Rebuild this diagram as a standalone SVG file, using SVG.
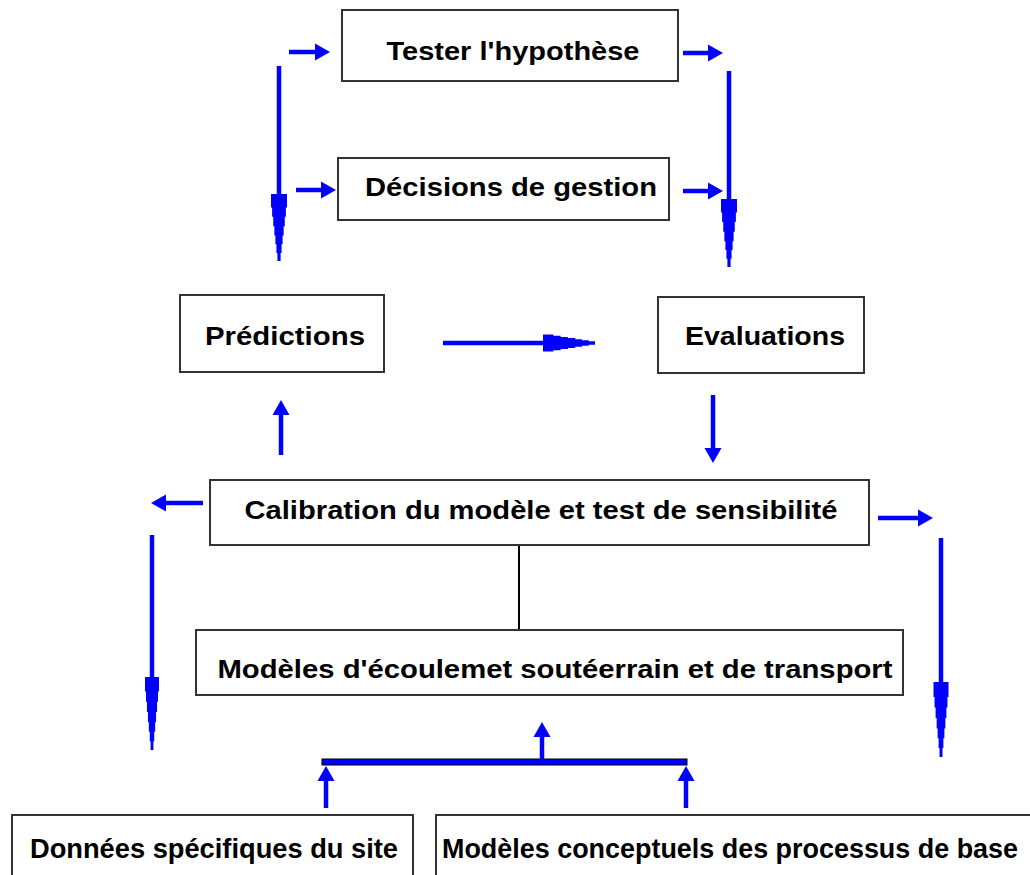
<svg xmlns="http://www.w3.org/2000/svg" xmlns:xlink="http://www.w3.org/1999/xlink" width="1030" height="875" viewBox="0 0 1030 875">
  <style>
    .box { fill: #ffffff; stroke: #333333; stroke-width: 2; }
    .lbl { font-family: "Liberation Sans", Arial, sans-serif; font-weight: bold; font-size: 26px; fill: #000000; }
    .narrow { font-size: 28px; }
    .flow { stroke: #0000ff; stroke-width: 4.5; fill: none; }
    .head { fill: #0000ff; }
    .link { stroke: #000000; stroke-width: 2; fill: none; }
  </style>
  <defs>
    <!-- plain triangular arrowhead, tip at origin, pointing +x -->
    <path id="tri" d="M0,0 L-15,-8.5 L-15,8.5 Z"/>
    <!-- long stepped arrowhead, tip at origin, pointing +x, unit length / unit half-width -->
    <path id="jag" d="M0,-0.2 L-0.12,-0.2 L-0.12,-0.32 L-0.25,-0.32 L-0.25,-0.45 L-0.38,-0.45 L-0.38,-0.58 L-0.52,-0.58 L-0.52,-0.72 L-0.66,-0.72 L-0.66,-0.86 L-0.8,-0.86 L-0.8,-1 L-1,-1 L-1,1 L-0.8,1 L-0.8,0.86 L-0.66,0.86 L-0.66,0.72 L-0.52,0.72 L-0.52,0.58 L-0.38,0.58 L-0.38,0.45 L-0.25,0.45 L-0.25,0.32 L-0.12,0.32 L-0.12,0.2 L0,0.2 Z"/>
  </defs>

  <g id="connectors">
    <!-- left column down to Prédictions -->
    <line class="flow" x1="279" y1="66" x2="279" y2="197"/>
    <use href="#jag" class="head" transform="translate(279,261) rotate(90) scale(67,8)"/>
    <!-- right column down to Evaluations -->
    <line class="flow" x1="729" y1="71" x2="729" y2="202"/>
    <use href="#jag" class="head" transform="translate(729,267) rotate(90) scale(68,8)"/>
    <!-- Prédictions to Evaluations -->
    <line class="flow" x1="443" y1="343" x2="545" y2="343"/>
    <use href="#jag" class="head" transform="translate(595,343) rotate(0) scale(52,8.5)"/>
    <!-- outer loops from Calibration -->
    <line class="flow" x1="152" y1="535" x2="152" y2="679"/>
    <use href="#jag" class="head" transform="translate(152,750) rotate(90) scale(73,7)"/>
    <line class="flow" x1="941" y1="538" x2="941" y2="684"/>
    <use href="#jag" class="head" transform="translate(941,757) rotate(90) scale(75,7.5)"/>

    <!-- short arrows into the top boxes -->
    <line class="flow" x1="289" y1="52" x2="317" y2="52"/>
    <use href="#tri" class="head" transform="translate(330,52)"/>
    <line class="flow" x1="296" y1="190" x2="322" y2="190"/>
    <use href="#tri" class="head" transform="translate(336,190)"/>
    <line class="flow" x1="683" y1="53" x2="711" y2="53"/>
    <use href="#tri" class="head" transform="translate(723,53)"/>
    <line class="flow" x1="683" y1="191" x2="711" y2="191"/>
    <use href="#tri" class="head" transform="translate(723,191)"/>

    <!-- arrows around Calibration -->
    <line class="flow" x1="203" y1="503" x2="165" y2="503"/>
    <use href="#tri" class="head" transform="translate(151,503) rotate(180)"/>
    <line class="flow" x1="878" y1="518" x2="920" y2="518"/>
    <use href="#tri" class="head" transform="translate(933,518)"/>
    <line class="flow" x1="281" y1="455" x2="281" y2="413"/>
    <use href="#tri" class="head" transform="translate(281,400) rotate(-90)"/>
    <line class="flow" x1="713" y1="395" x2="713" y2="450"/>
    <use href="#tri" class="head" transform="translate(713,463) rotate(90)"/>

    <!-- Calibration to flow models -->
    <line class="link" x1="519" y1="545" x2="519" y2="630"/>

    <!-- collector bar and inputs -->
    <rect x="322" y="759" width="365" height="6" fill="#0000ff" stroke="#000000" stroke-width="1"/>
    <line class="flow" x1="542" y1="760" x2="542" y2="735"/>
    <use href="#tri" class="head" transform="translate(542,722) rotate(-90)"/>
    <line class="flow" x1="326" y1="808" x2="326" y2="780"/>
    <use href="#tri" class="head" transform="translate(326,766) rotate(-90)"/>
    <line class="flow" x1="686" y1="808" x2="686" y2="780"/>
    <use href="#tri" class="head" transform="translate(686,766) rotate(-90)"/>
  </g>

  <g id="tester">
    <rect class="box" x="342" y="10" width="336" height="71"/>
    <text class="lbl" x="513" y="60" text-anchor="middle" textLength="253" lengthAdjust="spacingAndGlyphs">Tester l'hypothèse</text>
  </g>
  <g id="decisions">
    <rect class="box" x="338" y="158" width="331" height="62"/>
    <text class="lbl" x="511" y="196" text-anchor="middle" textLength="292" lengthAdjust="spacingAndGlyphs">Décisions de gestion</text>
  </g>
  <g id="predictions">
    <rect class="box" x="180" y="295" width="204" height="77"/>
    <text class="lbl" x="285" y="345" text-anchor="middle" textLength="160" lengthAdjust="spacingAndGlyphs">Prédictions</text>
  </g>
  <g id="evaluations">
    <rect class="box" x="658" y="297" width="206" height="76"/>
    <text class="lbl" x="765" y="345" text-anchor="middle" textLength="160" lengthAdjust="spacingAndGlyphs">Evaluations</text>
  </g>
  <g id="calibration">
    <rect class="box" x="210" y="480" width="659" height="65"/>
    <text class="lbl" x="541" y="519" text-anchor="middle" textLength="593" lengthAdjust="spacingAndGlyphs">Calibration du modèle et test de sensibilité</text>
  </g>
  <g id="modeles-ecoulement">
    <rect class="box" x="196" y="630" width="707" height="65"/>
    <text class="lbl" x="555" y="678" text-anchor="middle" textLength="675" lengthAdjust="spacingAndGlyphs">Modèles d'écoulemet soutéerrain et de transport</text>
  </g>
  <g id="donnees">
    <rect class="box" x="12" y="815" width="401" height="62"/>
    <text class="lbl narrow" x="214" y="858" text-anchor="middle" textLength="368" lengthAdjust="spacingAndGlyphs">Données spécifiques du site</text>
  </g>
  <g id="modeles-conceptuels">
    <rect class="box" x="436" y="815" width="596" height="62"/>
    <text class="lbl narrow" x="730" y="858" text-anchor="middle" textLength="576" lengthAdjust="spacingAndGlyphs">Modèles conceptuels des processus de base</text>
  </g>
</svg>
